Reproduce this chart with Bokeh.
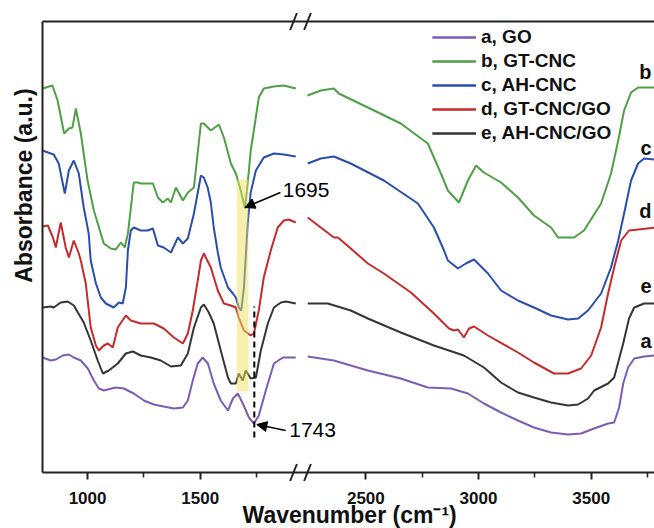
import numpy as np
from bokeh.plotting import figure
from bokeh.models import (Range1d, FixedTicker, LinearAxis, Legend, LegendItem,
                          Arrow, NormalHead, CustomJSTickFormatter)
from bokeh.core.properties import value
from bokeh.embed import file_html
from bokeh.resources import INLINE

FONT = "Liberation Sans"

# ---------------- axis break (cm^-1) ----------------
BREAK_LO = 1950
BREAK_HI = 2215
GAP = BREAK_HI - BREAK_LO
X_MIN, X_MAX = 800, 3781
Y_MIN, Y_MAX = 0.0, 4.51

major_ticks = [1000, 1500, 2500, 3000, 3500]
minor_ticks = [1250, 1750, 2750, 3250, 3750]

# ---------------- spectra ----------------
go_x = [800, 837, 859, 890, 917, 939, 970, 1001, 1028, 1050, 1072, 1125, 1161, 1205, 1250, 1294,
        1338, 1383, 1423, 1445, 1467, 1489, 1511, 1534, 1560, 1591, 1623, 1645, 1667, 1689, 1716,
        1738, 1760, 1791, 1827, 1867, 1924,
        2242, 2358, 2509, 2655, 2775, 2878, 2953, 3024, 3100, 3175, 3246, 3322, 3397, 3455, 3513,
        3575, 3602, 3624, 3642, 3664, 3691, 3735, 3784]
go_y = [1.15, 1.12, 1.13, 1.17, 1.18, 1.15, 1.12, 1.04, 0.92, 0.84, 0.82, 0.85, 0.84, 0.79, 0.72, 0.68,
        0.66, 0.64, 0.65, 0.72, 0.92, 1.09, 1.15, 1.09, 0.89, 0.72, 0.62, 0.74, 0.79, 0.69, 0.55,
        0.49, 0.57, 0.82, 1.09, 1.15, 1.15,
        1.16, 1.12, 1.02, 0.94, 0.85, 0.84, 0.79, 0.69, 0.60, 0.52, 0.45, 0.40, 0.38, 0.39, 0.44,
        0.49, 0.50, 0.65, 0.89, 1.05, 1.14, 1.16, 1.17]

gtcnc_x = [800, 844, 867, 896, 917, 933, 948, 970, 1000, 1028, 1072, 1103, 1125, 1148, 1165, 1179,
           1205, 1223, 1236, 1267, 1290, 1312, 1334, 1356, 1370, 1392, 1423, 1445, 1472, 1503, 1516,
           1547, 1583, 1605, 1636, 1658, 1680, 1699, 1716, 1724, 1738, 1760, 1782, 1827, 1871, 1924,
           2241, 2300, 2358, 2380, 2509, 2655, 2775, 2833, 2864, 2913, 2953, 2989, 3024, 3100, 3175,
           3246, 3322, 3353, 3424, 3468, 3544, 3588, 3620, 3646, 3677, 3708, 3784]
gtcnc_y = [3.84, 3.87, 3.72, 3.39, 3.44, 3.45, 3.64, 3.39, 2.92, 2.62, 2.29, 2.24, 2.23, 2.30, 2.25, 2.39,
           2.90, 2.90, 2.89, 2.89, 2.89, 2.75, 2.70, 2.74, 2.70, 2.85, 2.72, 2.80, 2.85, 3.49, 3.49,
           3.42, 3.48, 3.35, 3.09, 2.99, 2.82, 2.64, 3.02, 3.22, 3.42, 3.75, 3.84, 3.86, 3.87, 3.84,
           3.77, 3.82, 3.84, 3.79, 3.65, 3.49, 3.29, 2.99, 2.82, 2.70, 2.92, 3.07, 3.00, 2.90, 2.75,
           2.57, 2.45, 2.35, 2.35, 2.42, 2.69, 2.99, 3.32, 3.62, 3.80, 3.85, 3.85]

ahcnc_x = [800, 837, 850, 872, 899, 917, 939, 961, 983, 1005, 1014, 1037, 1059, 1081, 1116, 1139, 1156,
           1170, 1179, 1192, 1205, 1236, 1267, 1290, 1312, 1338, 1370, 1401, 1423, 1445, 1472, 1503,
           1516, 1533, 1547, 1560, 1578, 1591, 1623, 1645, 1658, 1671, 1682, 1694, 1711, 1724, 1747,
           1782, 1827, 1871, 1924,
           2242, 2300, 2358, 2433, 2580, 2731, 2802, 2847, 2864, 2909, 2944, 2980, 3042, 3100, 3175,
           3246, 3322, 3397, 3442, 3486, 3544, 3588, 3620, 3646, 3677, 3708, 3735, 3784]
ahcnc_y = [3.22, 3.19, 3.18, 3.09, 2.79, 3.02, 3.12, 2.99, 2.65, 2.39, 2.12, 1.89, 1.75, 1.69, 1.65, 1.70, 1.69,
           1.85, 2.22, 2.42, 2.45, 2.42, 2.42, 2.44, 2.27, 2.25, 2.20, 2.35, 2.29, 2.34, 2.59, 2.97,
           2.95, 2.85, 2.70, 2.45, 2.20, 2.05, 1.85, 1.79, 1.75, 1.65, 1.62, 1.85, 2.50, 2.80, 3.02,
           3.15, 3.19, 3.18, 3.16,
           3.09, 3.14, 3.16, 3.09, 2.92, 2.69, 2.45, 2.22, 2.12, 2.04, 2.09, 2.13, 1.99, 1.82, 1.72,
           1.65, 1.57, 1.53, 1.54, 1.62, 1.79, 2.05, 2.32, 2.59, 2.92, 3.09, 3.14, 3.13]

gtgo_x = [800, 824, 846, 859, 881, 903, 917, 939, 961, 970, 992, 1014, 1037, 1050, 1072, 1090, 1112,
          1134, 1170, 1192, 1236, 1294, 1338, 1383, 1423, 1445, 1467, 1489, 1503, 1516, 1547, 1578,
          1605, 1636, 1658, 1671, 1694, 1724, 1738, 1760, 1782, 1813, 1844, 1871, 1893, 1924,
          2242, 2300, 2358, 2376, 2433, 2509, 2580, 2700, 2802, 2869, 2891, 2909, 2935, 2958, 2980,
          3042, 3175, 3246, 3335, 3397, 3455, 3500, 3544, 3575, 3602, 3633, 3668, 3784]
gtgo_y = [2.46, 2.47, 2.35, 2.25, 2.50, 2.25, 2.15, 2.32, 2.19, 2.12, 1.89, 1.45, 1.27, 1.22, 1.27, 1.29, 1.25,
          1.45, 1.57, 1.52, 1.49, 1.49, 1.44, 1.35, 1.29, 1.39, 1.62, 1.92, 2.12, 2.19, 2.05, 1.82,
          1.69, 1.67, 1.65, 1.55, 1.42, 1.37, 1.39, 1.62, 1.95, 2.22, 2.45, 2.52, 2.53, 2.50,
          2.55, 2.45, 2.35, 2.35, 2.24, 2.09, 1.99, 1.80, 1.59, 1.44, 1.42, 1.43, 1.35, 1.44, 1.46,
          1.37, 1.20, 1.10, 0.99, 0.99, 1.04, 1.17, 1.45, 1.79, 2.05, 2.32, 2.42, 2.45]

ahgo_x = [800, 837, 850, 881, 912, 939, 983, 1014, 1045, 1068, 1094, 1134, 1170, 1201, 1236, 1281,
          1325, 1370, 1414, 1445, 1472, 1503, 1516, 1538, 1560, 1591, 1623, 1636, 1658, 1671, 1689,
          1702, 1724, 1747, 1769, 1800, 1827, 1858, 1880, 1924,
          2242, 2331, 2433, 2509, 2655, 2802, 2935, 3024, 3100, 3175, 3246, 3322, 3397, 3442, 3486,
          3513, 3575, 3602, 3642, 3668, 3691, 3735, 3784]
ahgo_y = [1.65, 1.66, 1.65, 1.70, 1.71, 1.67, 1.50, 1.32, 1.12, 0.99, 1.02, 1.09, 1.19, 1.21, 1.17, 1.15,
          1.12, 1.06, 1.07, 1.19, 1.45, 1.65, 1.68, 1.60, 1.49, 1.22, 0.95, 0.89, 0.89, 0.99, 0.92,
          1.02, 0.94, 0.95, 1.22, 1.49, 1.65, 1.70, 1.71, 1.69,
          1.69, 1.69, 1.62, 1.54, 1.40, 1.27, 1.17, 1.05, 0.90, 0.80, 0.75, 0.70, 0.67, 0.68, 0.74,
          0.82, 0.89, 0.95, 1.29, 1.54, 1.65, 1.69, 1.69]

series_labels = ["a, GO", "b, GT-CNC", "c, AH-CNC", "d, GT-CNC/GO", "e, AH-CNC/GO"]
series_colors = ["#7b5db6", "#4f9f47", "#2a4eb0", "#c62b2b", "#353535"]

# end letters for each curve
end_letters = ["b", "c", "d", "e", "a"]
end_letter_y = [4.01, 3.25, 2.62, 1.87, 1.32]
END_LETTER_X = 3768

# annotations
BAND_X = (1662, 1714)
BAND_Y = (0.81, 2.93)
DASH_X = 1740
DASH_Y = (0.35, 1.66)
PEAK1 = dict(text="1695", tip=(1698, 2.65), tail=(1856, 2.80), label=(1866, 2.83))
PEAK2 = dict(text="1743", tip=(1751, 0.48), tail=(1879, 0.42), label=(1895, 0.43))

X_TITLE = "Wavenumber (cm\u207b\u00b9)"
Y_TITLE = "Absorbance (a.u.)"


def disp(x):
    """Map a wavenumber onto the broken (compressed) axis."""
    x = np.asarray(x, dtype=float)
    return np.where(x > BREAK_LO, x - GAP, x)


W, H = 654, 528
p = figure(width=W, height=H, output_backend="svg", toolbar_location=None,
           x_range=Range1d(X_MIN, X_MAX - GAP), y_range=Range1d(Y_MIN, Y_MAX),
           min_border_left=42, min_border_right=0, min_border_top=21, min_border_bottom=56)
p.outline_line_color = None
p.grid.visible = False
p.background_fill_color = "white"
p.border_fill_color = "white"

AX = "#222222"
# bottom axis
xa = p.xaxis[0]
xa.ticker = FixedTicker(ticks=list(disp(major_ticks)), minor_ticks=list(disp(minor_ticks)))
xa.formatter = CustomJSTickFormatter(
    code=f"return String(Math.round(tick > {BREAK_LO} ? tick + {GAP} : tick));")
xa.axis_line_width = 2
xa.axis_line_color = AX
xa.major_tick_line_color = AX
xa.major_tick_line_width = 2
xa.minor_tick_line_color = AX
xa.minor_tick_line_width = 1.5
xa.major_tick_out = 7
xa.major_tick_in = 0
xa.minor_tick_out = 5
xa.minor_tick_in = 0
xa.major_label_standoff = 12
xa.major_label_text_font = FONT
xa.major_label_text_font_size = "17px"
xa.major_label_text_font_style = "bold"
xa.major_label_text_color = "#111111"

# left axis: line only
ya = p.yaxis[0]
ya.ticker = FixedTicker(ticks=[])
ya.axis_line_width = 2
ya.axis_line_color = AX
ya.major_tick_out = 0
ya.major_tick_in = 0
ya.minor_tick_out = 0
ya.minor_tick_in = 0
ya.major_label_standoff = 0
ya.major_label_text_font_size = "0px"

# top axis: line only
top = LinearAxis(ticker=FixedTicker(ticks=[]), axis_line_width=2, axis_line_color=AX,
                 major_tick_out=0, major_tick_in=0, minor_tick_out=0, minor_tick_in=0,
                 major_label_standoff=0, major_label_text_font_size="0px")
p.add_layout(top, "above")

# axis titles: anchored at the frame edge, pushed outward by pixel offsets
p.text(x=[2163], y=[Y_MIN + 0.02], text=[X_TITLE], y_offset=57,
       text_font=value(FONT), text_font_size=value("23px"), text_font_style="bold",
       text_color="#111111", text_align="center", text_baseline="bottom", level="overlay")
p.text(x=[X_MIN + 2], y=[2.87], text=[Y_TITLE], angle=np.pi / 2, x_offset=-19,
       text_font=value(FONT), text_font_size=value("23px"), text_font_style="bold",
       text_color="#111111", text_align="center", text_baseline="middle", level="overlay")

# spectra
all_x = [go_x, gtcnc_x, ahcnc_x, gtgo_x, ahgo_x]
all_y = [go_y, gtcnc_y, ahcnc_y, gtgo_y, ahgo_y]
items = []
for xs, ys, lab, col in zip(all_x, all_y, series_labels, series_colors):
    xs = np.asarray(xs, float)
    ys = np.asarray(ys, float)
    rs = []
    for m in (xs < BREAK_LO, xs > BREAK_HI):
        rs.append(p.line(disp(xs[m]), ys[m], line_color=col, line_width=2))
    items.append(LegendItem(label=lab, renderers=rs))

# highlight band
p.quad(left=[BAND_X[0]], right=[BAND_X[1]], bottom=[BAND_Y[0]], top=[BAND_Y[1]],
       fill_color="#ede25e", fill_alpha=0.5, line_color=None)

# dashed marker
p.segment(x0=[DASH_X], y0=[DASH_Y[0]], x1=[DASH_X], y1=[DASH_Y[1]],
          line_color="black", line_width=2, line_dash="6 4")

# arrows and peak labels
for pk in (PEAK1, PEAK2):
    p.add_layout(Arrow(end=NormalHead(size=10, fill_color="black", line_color="black"),
                       x_start=pk["tail"][0], y_start=pk["tail"][1],
                       x_end=pk["tip"][0], y_end=pk["tip"][1],
                       line_color="black", line_width=1.5))
    p.text(x=[pk["label"][0]], y=[pk["label"][1]], text=[pk["text"]],
           text_font=value(FONT), text_font_size=value("21px"), text_color="black",
           text_align="left", text_baseline="middle", level="overlay")

# curve letters
p.text(x=list(disp([END_LETTER_X] * len(end_letters))), y=end_letter_y, text=end_letters,
       text_font=value(FONT), text_font_size=value("20px"), text_font_style="bold",
       text_color="#111111", text_align="right", text_baseline="middle", level="overlay")

# break marks
bc = BREAK_LO - 5
sx = [bc - 31, bc + 31]
dx, dy = 15, 0.085
x0s, y0s, x1s, y1s = [], [], [], []
for yy in (Y_MIN, Y_MAX):
    for c in sx:
        x0s.append(c - dx); y0s.append(yy - dy); x1s.append(c + dx); y1s.append(yy + dy)
p.segment(x0=x0s, y0=y0s, x1=x1s, y1=y1s, line_color=AX, line_width=2, level="overlay")

legend = Legend(items=items, location=(390, 328), padding=0, margin=0, spacing=2,
                glyph_width=44, glyph_height=22, label_height=22, label_standoff=5,
                label_text_font=FONT, label_text_font_size="19px", label_text_font_style="bold",
                label_text_color="#111111", border_line_color=None, background_fill_alpha=0)
p.add_layout(legend)

open("out.html", "w").write(file_html(p, INLINE))
